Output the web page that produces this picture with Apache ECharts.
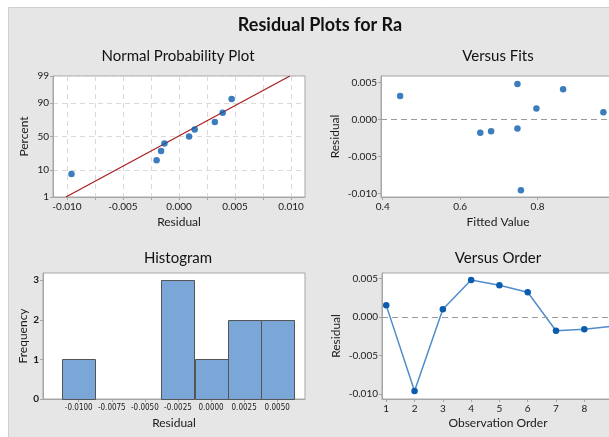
<!DOCTYPE html>
<html><head><meta charset="utf-8">
<script src="https://cdn.jsdelivr.net/npm/echarts@6/dist/echarts.min.js"></script>
<style>html,body{margin:0;padding:0;background:#fff;overflow:hidden;width:609px;height:437px}#c{width:640px;height:460px}</style>
</head><body><div id="c"></div>
<script>
// ---- data ----
const residualsByOrder = [0.0015, -0.0096, 0.0010, 0.0048, 0.0041, 0.0032, -0.0018, -0.0016, -0.0012];
const fittedValues = [0.797, 0.757, 0.970, 0.748, 0.866, 0.445, 0.652, 0.680, 0.748];
const observationOrder = [1, 2, 3, 4, 5, 6, 7, 8, 9];
const probResiduals = [-0.0096, -0.0020, -0.0016, -0.0013, 0.0009, 0.0014, 0.0032, 0.0039, 0.0047];
const probPercents = [7.4, 18.1, 28.7, 39.4, 50.0, 60.6, 71.3, 81.9, 92.6];
const fitLineResiduals = [-0.0101, 0.0099];
const fitLinePercents = [1, 99];
const percentTicks = [1, 10, 50, 90, 99];
const probXTicks = [-0.010, -0.005, 0.000, 0.005, 0.010];
const probXGrid = [-0.010, -0.0075, -0.005, -0.0025, 0.000, 0.0025, 0.005, 0.0075, 0.010];
const histBinCenters = [-0.0100, -0.0075, -0.0050, -0.0025, 0.0000, 0.0025, 0.0050];
const histCounts = [1, 0, 0, 3, 1, 2, 2];
const histBinWidth = 0.0025;
const freqTicks = [0, 1, 2, 3];
const residualTicks = [-0.010, -0.005, 0.000, 0.005];
const fittedTicks = [0.4, 0.6, 0.8, 1.0];

// inverse normal CDF (probability-paper scale for the y axis)
function probit(p) {
  const a = [-3.969683028665376e+01, 2.209460984245205e+02, -2.759285104469687e+02, 1.383577518672690e+02, -3.066479806614716e+01, 2.506628277459239e+00];
  const b = [-5.447609879822406e+01, 1.615858368580409e+02, -1.556989798598866e+02, 6.680131188771972e+01, -1.328068155288572e+01];
  const c = [-7.784894002430293e-03, -3.223964580411365e-01, -2.400758277161838e+00, -2.549732539343734e+00, 4.374664141464968e+00, 2.938163982698783e+00];
  const d = [7.784695709041462e-03, 3.224671290700398e-01, 2.445134137142996e+00, 3.754408661907416e+00];
  const pl = 0.02425, ph = 1 - pl; let q, r;
  if (p < pl) { q = Math.sqrt(-2 * Math.log(p)); return (((((c[0]*q+c[1])*q+c[2])*q+c[3])*q+c[4])*q+c[5]) / ((((d[0]*q+d[1])*q+d[2])*q+d[3])*q+1); }
  if (p <= ph) { q = p - 0.5; r = q * q; return (((((a[0]*r+a[1])*r+a[2])*r+a[3])*r+a[4])*r+a[5])*q / (((((b[0]*r+b[1])*r+b[2])*r+b[3])*r+b[4])*r+1); }
  q = Math.sqrt(-2 * Math.log(1 - p)); return -(((((c[0]*q+c[1])*q+c[2])*q+c[3])*q+c[4])*q+c[5]) / ((((d[0]*q+d[1])*q+d[2])*q+d[3])*q+1);
}
const z = pct => probit(pct / 100);

const FONT = 'Lato';
const NARROW = "'Liberation Sans Narrow', 'Arial Narrow', 'DejaVu Sans Condensed', 'Roboto Condensed', sans-serif";
const TXT = '#1a1a1a';
const FRAME = '#a6a6a6';
const MARK = '#0b5cad';

function baseAxis(extra) {
  return Object.assign({
    axisLine: { show: true, onZero: false, lineStyle: { color: FRAME } },
    axisTick: { show: true, length: 3, lineStyle: { color: FRAME } },
    axisLabel: { color: TXT, fontSize: 10, fontFamily: FONT, margin: 4 },
    splitLine: { show: false },
    nameLocation: 'middle',
    nameTextStyle: { color: TXT, fontSize: 12, fontFamily: FONT }
  }, extra);
}
const zeroLine = { silent: true, symbol: 'none', label: { show: false }, lineStyle: { color: '#9b9b9b', type: [6, 4], width: 1 }, data: [{ yAxis: 0 }] };
const fmt3 = v => v.toFixed(3);

const chart = echarts.init(document.getElementById('c'), null, { renderer: 'canvas' });
chart.setOption({
  animation: false,
  backgroundColor: '#fff',
  graphic: [
    { type: 'rect', z: -100, shape: { x: 8.5, y: 7.5, width: 640, height: 470 }, style: { fill: '#e6e6e6', stroke: '#cfcfcf', lineWidth: 1 } },
    { type: 'text', x: 320, y: 25, style: { text: 'Residual Plots for Ra', textAlign: 'center', textVerticalAlign: 'middle', font: 'bold 18px ' + FONT, fill: '#111' } },
    { type: 'text', x: 178, y: 56, style: { text: 'Normal Probability Plot', textAlign: 'center', textVerticalAlign: 'middle', font: '15px ' + FONT, fill: '#111' } },
    { type: 'text', x: 498, y: 56, style: { text: 'Versus Fits', textAlign: 'center', textVerticalAlign: 'middle', font: '15px ' + FONT, fill: '#111' } },
    { type: 'text', x: 178, y: 258, style: { text: 'Histogram', textAlign: 'center', textVerticalAlign: 'middle', font: '15px ' + FONT, fill: '#111' } },
    { type: 'text', x: 498, y: 258, style: { text: 'Versus Order', textAlign: 'center', textVerticalAlign: 'middle', font: '15px ' + FONT, fill: '#111' } }
  ],
  grid: [
    { left: 53, top: 76, width: 252, height: 121 },
    { left: 381, top: 76, width: 234, height: 121 },
    { left: 43, top: 273, width: 262, height: 126 },
    { left: 382, top: 273, width: 232, height: 126 }
  ].map(g => Object.assign(g, { show: true, backgroundColor: '#fff', borderColor: FRAME, borderWidth: 1, containLabel: false })),
  xAxis: [
    baseAxis({ gridIndex: 0, type: 'value', min: -0.01125, max: 0.01125, name: 'Residual', nameGap: 19,
      axisTick: { show: true, length: 3, lineStyle: { color: FRAME }, customValues: probXGrid },
      axisLabel: { color: TXT, fontSize: 10, fontFamily: FONT, margin: 5, customValues: probXTicks, formatter: fmt3 },
      splitLine: { show: true, lineStyle: { color: '#d9d9d9', type: [5, 4] } } }),
    baseAxis({ gridIndex: 1, type: 'value', min: 0.3956, max: 1.0, name: 'Fitted Value', nameGap: 19,
      axisTick: { show: true, length: 3, lineStyle: { color: FRAME }, customValues: fittedTicks },
      axisLabel: { color: TXT, fontSize: 10, fontFamily: FONT, margin: 5, customValues: fittedTicks, formatter: v => v.toFixed(1) } }),
    baseAxis({ gridIndex: 2, type: 'value', min: -0.0127, max: 0.0071, name: 'Residual', nameGap: 18,
      axisTick: { show: true, length: 3, lineStyle: { color: FRAME }, customValues: histBinCenters },
      axisLabel: { color: TXT, fontSize: 8, fontFamily: NARROW, margin: 5, customValues: histBinCenters, formatter: v => v.toFixed(4) } }),
    baseAxis({ gridIndex: 3, type: 'value', min: 0.85, max: 9.05, name: 'Observation Order', nameGap: 18,
      axisTick: { show: true, length: 3, lineStyle: { color: FRAME }, customValues: observationOrder },
      axisLabel: { color: TXT, fontSize: 10, fontFamily: FONT, margin: 5, customValues: observationOrder, formatter: v => String(Math.round(v)) } })
  ],
  yAxis: [
    baseAxis({ gridIndex: 0, type: 'value', min: z(1), max: z(99), name: 'Percent', nameGap: 23,
      axisTick: { show: true, length: 3, lineStyle: { color: FRAME }, customValues: percentTicks.map(z) },
      axisLabel: { color: TXT, fontSize: 10, fontFamily: FONT, margin: 4, customValues: percentTicks.map(z),
        formatter: v => { let best = 0; percentTicks.forEach((p, i) => { if (Math.abs(z(p) - v) < Math.abs(z(percentTicks[best]) - v)) best = i; }); return String(percentTicks[best]); } },
      splitLine: { show: true, lineStyle: { color: '#d9d9d9', type: [5, 4] } } }),
    baseAxis({ gridIndex: 1, type: 'value', min: -0.0105, max: 0.0059, name: 'Residual', nameGap: 40,
      axisTick: { show: true, length: 3, lineStyle: { color: FRAME }, customValues: residualTicks },
      axisLabel: { color: TXT, fontSize: 10, fontFamily: FONT, margin: 4, customValues: residualTicks, formatter: fmt3 } }),
    baseAxis({ gridIndex: 2, type: 'value', min: 0, max: 3.18, name: 'Frequency', nameGap: 10,
      axisTick: { show: true, length: 3, lineStyle: { color: FRAME }, customValues: freqTicks },
      axisLabel: { color: TXT, fontSize: 10, fontWeight: 'bold', fontFamily: FONT, margin: 4, customValues: freqTicks } }),
    baseAxis({ gridIndex: 3, type: 'value', min: -0.01065, max: 0.0057, name: 'Residual', nameGap: 40,
      axisTick: { show: true, length: 3, lineStyle: { color: FRAME }, customValues: residualTicks },
      axisLabel: { color: TXT, fontSize: 10, fontFamily: FONT, margin: 4, customValues: residualTicks, formatter: fmt3 } })
  ],
  series: [
    { type: 'line', xAxisIndex: 0, yAxisIndex: 0, data: fitLineResiduals.map((x, i) => [x, z(fitLinePercents[i])]),
      symbol: 'none', lineStyle: { color: '#a81c1c', width: 1.2 }, z: 3 },
    { type: 'scatter', xAxisIndex: 0, yAxisIndex: 0, data: probResiduals.map((x, i) => [x, z(probPercents[i])]),
      symbol: 'circle', symbolSize: 6.5, itemStyle: { color: MARK }, z: 4 },
    { type: 'scatter', xAxisIndex: 1, yAxisIndex: 1, data: fittedValues.map((x, i) => [x, residualsByOrder[i]]),
      symbol: 'circle', symbolSize: 6.5, itemStyle: { color: MARK }, markLine: zeroLine },
    { type: 'custom', xAxisIndex: 2, yAxisIndex: 2, data: histBinCenters.map((x, i) => [x, histCounts[i]]),
      renderItem: (params, api) => {
        const c = api.value(0), n = api.value(1);
        if (!n) return null;
        const p0 = api.coord([c - histBinWidth / 2, n]);
        const p1 = api.coord([c + histBinWidth / 2, 0]);
        return { type: 'rect', shape: { x: Math.round(p0[0]) + 0.5, y: Math.round(p0[1]) + 0.5, width: Math.round(p1[0] - p0[0]), height: Math.round(p1[1] - p0[1]) },
          style: { fill: '#7ba6d8', stroke: '#555', lineWidth: 1 } };
      } },
    { type: 'line', xAxisIndex: 3, yAxisIndex: 3, data: observationOrder.map((x, i) => [x, residualsByOrder[i]]),
      symbol: 'circle', symbolSize: 6.5, itemStyle: { color: MARK }, lineStyle: { color: '#4f8ccc', width: 1.5 }, markLine: zeroLine }
  ]
});
</script></body></html>
